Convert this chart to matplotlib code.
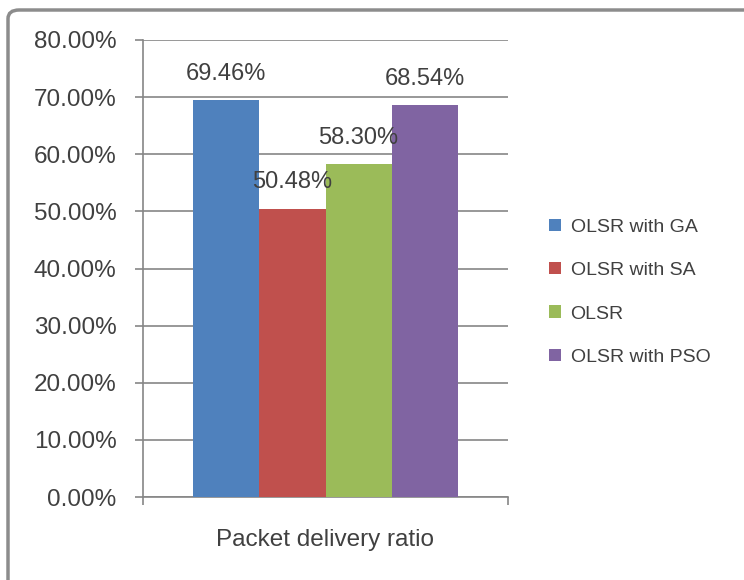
import matplotlib.pyplot as plt
from matplotlib.patches import FancyBboxPatch
from matplotlib.ticker import PercentFormatter

plt.rcParams['font.family'] = ['Liberation Sans', 'DejaVu Sans']

category = 'Packet delivery ratio'
series = ['OLSR with GA', 'OLSR with SA', 'OLSR', 'OLSR with PSO']
values = [69.46, 50.48, 58.30, 68.54]
colors = ['#4F81BD', '#C0504D', '#9BBB59', '#8064A2']

fig = plt.figure(figsize=(7.44, 5.8), dpi=100)
ax = fig.add_axes([143 / 744, 83 / 580, 365 / 744, 457 / 580])

# chart frame (rounded, cut off at right/bottom like the screenshot)
frame = FancyBboxPatch((8 / 744, -0.05), 1.1, 1 - 10 / 580 + 0.05,
                       boxstyle='round,pad=0,rounding_size=0.015',
                       transform=fig.transFigure, fill=False,
                       edgecolor='#8c8c8c', linewidth=2.5, zorder=0)
fig.patches.append(frame)

width = 0.181
for i, (name, v, c) in enumerate(zip(series, values, colors)):
    x = (i - 1.5) * width
    ax.bar(x, v, width=width, color=c, label=name, zorder=3)
    ax.annotate(f'{v:.2f}%', (x, v), xytext=(0, 19), textcoords='offset points',
                ha='center', va='center', fontsize=17, color='#404040', zorder=4)

ax.set_xlim(-0.5, 0.5)
ax.set_ylim(0, 80)
ax.set_yticks(range(0, 81, 10))
ax.yaxis.set_major_formatter(PercentFormatter(decimals=2))
ax.grid(axis='y', color='#868686', linewidth=1.2, zorder=1)

ax.set_xticks([-0.5, 0.5])
ax.set_xticklabels(['', ''])
ax.tick_params(axis='x', length=6, width=1.2, color='#868686')
ax.tick_params(axis='y', length=6, width=1.2, color='#868686',
               labelsize=17.5, labelcolor='#404040', pad=13)
for s in ['top', 'right']:
    ax.spines[s].set_visible(False)
for s in ['left', 'bottom']:
    ax.spines[s].set_color('#868686')
    ax.spines[s].set_linewidth(1.2)

ax.text(0.5, -0.095, category, transform=ax.transAxes, ha='center', va='center',
        fontsize=17.5, color='#404040')

ax.legend(loc='center left', bbox_to_anchor=(1.065, 0.448), frameon=False,
          fontsize=14, handlelength=0.6, handleheight=0.6, handletextpad=0.5,
          labelspacing=1.36, labelcolor='#404040')

fig.savefig('out.png', dpi=100)
